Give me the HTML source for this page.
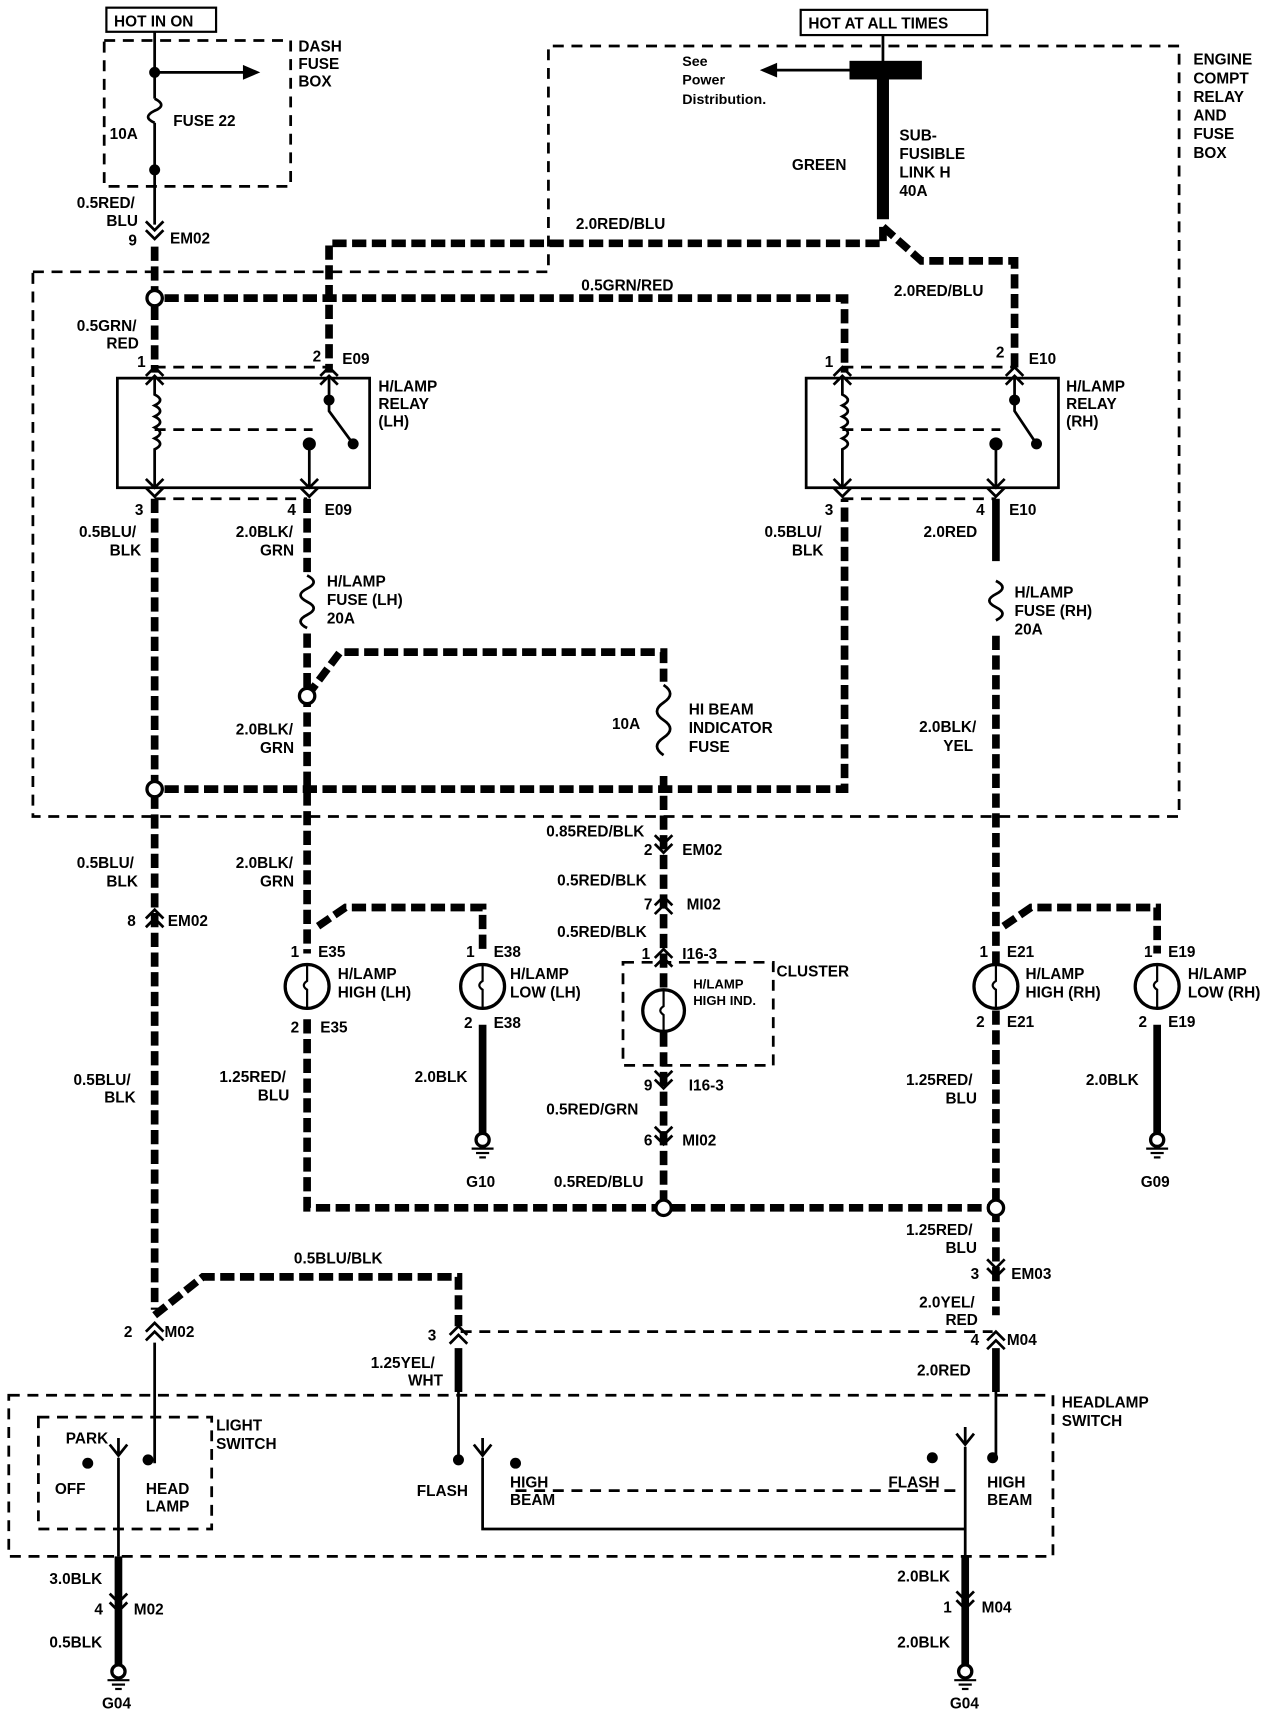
<!DOCTYPE html>
<html><head><meta charset="utf-8"><style>
html,body{margin:0;padding:0;background:#fff;}
svg{display:block;}
text{font-family:"Liberation Sans",sans-serif;font-weight:bold;font-size:14px;fill:#000;}
</style></head><body>
<svg width="1280" height="1712" viewBox="0 0 1167 1562" preserveAspectRatio="none" xmlns="http://www.w3.org/2000/svg">
<defs>
<g id="gnd"><circle cx="0" cy="0" r="6" fill="#fff" stroke="#000" stroke-width="3"/><line x1="-10" y1="8" x2="10" y2="8" stroke="#000" stroke-width="2"/><line x1="-6" y1="12" x2="6" y2="12" stroke="#000" stroke-width="2"/><line x1="-3" y1="16" x2="3" y2="16" stroke="#000" stroke-width="2"/></g>
<g id="cd"><path d="M-8,-8 L0,0 L8,-8 M-8,0 L0,8 L8,0" fill="none" stroke="#000" stroke-width="2.5"/></g>
<g id="cu"><path d="M-8,8 L0,0 L8,8 M-8,16 L0,8 L8,16" fill="none" stroke="#000" stroke-width="2.5"/></g>
</defs>
<g fill="none" stroke="#000">
<g stroke-width="2.5" stroke-dasharray="10 7">
<rect x="95" y="37" width="170" height="133"/>
<path d="M30,248 L500,248 L500,42 L1075,42 L1075,745 L30,745 Z"/>
<rect x="568" y="878" width="137" height="94"/>
<rect x="8" y="1273" width="952" height="147"/>
<rect x="35" y="1293" width="158" height="102"/>
<path d="M141,335 L300,335 M141,455 L280,455 M141,392 L285,392 M768,335 L925,335 M768,455 L908,455 M768,392 L912,392 M420,1215 L905,1215 M470,1360 L875,1360"/>
</g>
<rect x="97" y="7" width="100" height="22" stroke-width="2"/>
<rect x="730" y="9" width="170" height="23" stroke-width="2"/>
<g stroke-width="2.5">
<path d="M141,29 L141,90 M141,112 L141,205 M141,66 L225,66"/>
<path d="M141,90 q12,6 0,11 q-12,6 0,11" />
<path d="M805,32 L805,60 M775,64 L705,64"/>
<rect x="107" y="345" width="230" height="100"/>
<rect x="735" y="345" width="230" height="100"/>
<path d="M141,345 L141,360 q10,5 0,10 q10,5 0,10 q10,5 0,10 q10,5 0,10 q10,5 0,10 L141,445"/>
<path d="M300,345 L300,375 L322,405 M282,405 L282,445"/>
<path d="M768,345 L768,360 q10,5 0,10 q10,5 0,10 q10,5 0,10 q10,5 0,10 q10,5 0,10 L768,445"/>
<path d="M925,345 L925,375 L945,405 M908,405 L908,445"/>
<path d="M280,525 q12,6 0,12 q-12,6 0,12 q12,6 0,12 q-12,6 0,12"/>
<path d="M605,625 q12,8 0,16 q-12,8 0,16 q12,8 0,16 q-12,8 0,16"/>
<path d="M908,530 q12,6 0,12 q-12,6 0,12 q12,6 0,12"/>
<path d="M418,1270 L418,1330 M908,1270 L908,1330 M141,1225 L141,1335 M108,1330 L108,1420"/>
<path d="M440,1330 L440,1395 L880,1395 M880,1320 L880,1420"/>
</g>
<path d="M222,60 L236,66 L222,72 Z M708,58 L694,64 L708,70 Z" fill="#000" stroke-width="1"/>
<g stroke-width="7" stroke-dasharray="13 5">
<path d="M141,225 L141,340"/>
<path d="M805,207 L805,222 L300,222 L300,340"/>
<path d="M805,207 L840,238 L925,238 L925,340"/>
<path d="M150,272 L770,272 L770,340"/>
<path d="M141,455 L141,1195"/>
<path d="M280,455 L280,525"/>
<path d="M280,578 L280,870"/>
<path d="M280,635 L310,595 L605,595 L605,622"/>
<path d="M605,708 L605,1100"/>
<path d="M150,720 L770,720 L770,455"/>
<path d="M908,580 L908,1200"/>
<path d="M290,845 L315,828 L440,828 L440,870"/>
<path d="M915,845 L940,828 L1055,828 L1055,870"/>
<path d="M280,930 L280,1102 L908,1102"/>
<path d="M141,1200 L185,1165 L418,1165 L418,1210"/>
</g>
<g stroke-width="7">
<path d="M805,72 L805,200" stroke-width="11"/>
<path d="M908,455 L908,512"/>
<path d="M440,935 L440,1035 M1055,935 L1055,1035"/>
<path d="M418,1230 L418,1270 M908,1230 L908,1270"/>
<path d="M108,1420 L108,1520 M880,1420 L880,1520"/>
</g>
<rect x="775" y="56" width="65" height="16" fill="#000"/>
<g stroke-width="3" fill="#fff">
<circle cx="280" cy="900" r="20"/><circle cx="440" cy="900" r="20"/>
<circle cx="605" cy="922" r="19"/><circle cx="908" cy="900" r="20"/><circle cx="1055" cy="900" r="20"/>
</g>
<g stroke-width="2">
<path d="M280,880 L280,895 q-6,4 0,8 L280,920 M440,880 L440,895 q-6,4 0,8 L440,920 M605,903 L605,918 q-6,4 0,8 L605,941 M908,880 L908,895 q-6,4 0,8 L908,920 M1055,880 L1055,895 q-6,4 0,8 L1055,920"/>
</g>
<g stroke-width="2.5">
<path d="M100,1318 L108,1328 L116,1318 M108,1328 L108,1312"/>
<path d="M432,1318 L440,1328 L448,1318 M440,1328 L440,1312"/>
<path d="M872,1308 L880,1318 L888,1308 M880,1318 L880,1302"/>
</g>
</g>
<g fill="#000">
<circle cx="141" cy="66" r="5"/><circle cx="141" cy="155" r="5"/>
<circle cx="300" cy="365" r="5"/><circle cx="322" cy="405" r="5"/><circle cx="282" cy="405" r="6"/>
<circle cx="925" cy="365" r="5"/><circle cx="945" cy="405" r="5"/><circle cx="908" cy="405" r="6"/>
<circle cx="80" cy="1335" r="5"/><circle cx="135" cy="1332" r="5"/>
<circle cx="418" cy="1332" r="5"/><circle cx="470" cy="1335" r="5"/>
<circle cx="850" cy="1330" r="5"/><circle cx="905" cy="1330" r="5"/>
</g>
<g fill="#fff" stroke="#000" stroke-width="3">
<circle cx="141" cy="272" r="7"/><circle cx="280" cy="635" r="7"/><circle cx="141" cy="720" r="7"/>
<circle cx="605" cy="1102" r="7"/><circle cx="908" cy="1102" r="7"/>
</g>
<use href="#cd" x="141" y="210"/>
<use href="#cu" x="141" y="335"/><use href="#cu" x="300" y="335"/>
<use href="#cu" x="768" y="335"/><use href="#cu" x="925" y="335"/>
<use href="#cd" x="141" y="445"/><use href="#cd" x="282" y="445"/>
<use href="#cd" x="768" y="445"/><use href="#cd" x="908" y="445"/>
<use href="#cu" x="141" y="830"/>
<use href="#cd" x="605" y="770"/><use href="#cu" x="605" y="818"/><use href="#cu" x="605" y="866"/>
<use href="#cd" x="605" y="985"/><use href="#cd" x="605" y="1036"/>
<use href="#cd" x="908" y="1157"/><use href="#cu" x="908" y="1215"/>
<use href="#cu" x="141" y="1207"/><use href="#cu" x="418" y="1210"/>
<use href="#cd" x="108" y="1462"/><use href="#cd" x="880" y="1460"/>
<use href="#gnd" x="440" y="1040"/><use href="#gnd" x="1055" y="1040"/>
<use href="#gnd" x="108" y="1525"/><use href="#gnd" x="880" y="1525"/>
<text x="104" y="24">HOT IN ON</text>
<text x="737" y="26">HOT AT ALL TIMES</text>
<text x="272" y="47">DASH</text><text x="272" y="63">FUSE</text><text x="272" y="79">BOX</text>
<text x="158" y="115">FUSE 22</text><text x="100" y="127">10A</text>
<text x="70" y="190">0.5RED/</text><text x="97" y="206">BLU</text>
<text x="117" y="224">9</text><text x="155" y="222">EM02</text>
<text x="622" y="60" style="font-size:13px">See</text><text x="622" y="77" style="font-size:13px">Power</text><text x="622" y="95" style="font-size:13px">Distribution.</text>
<text x="1088" y="59">ENGINE</text><text x="1088" y="76">COMPT</text><text x="1088" y="93">RELAY</text><text x="1088" y="110">AND</text><text x="1088" y="127">FUSE</text><text x="1088" y="144">BOX</text>
<text x="820" y="128">SUB-</text><text x="820" y="145">FUSIBLE</text><text x="820" y="162">LINK H</text><text x="820" y="179">40A</text>
<text x="722" y="155">GREEN</text>
<text x="525" y="209">2.0RED/BLU</text>
<text x="530" y="265">0.5GRN/RED</text>
<text x="815" y="270">2.0RED/BLU</text>
<text x="70" y="302">0.5GRN/</text><text x="97" y="318">RED</text>
<text x="125" y="335">1</text><text x="285" y="330">2</text><text x="312" y="332">E09</text>
<text x="752" y="335">1</text><text x="908" y="326">2</text><text x="938" y="332">E10</text>
<text x="345" y="357">H/LAMP</text><text x="345" y="373">RELAY</text><text x="345" y="389">(LH)</text>
<text x="972" y="357">H/LAMP</text><text x="972" y="373">RELAY</text><text x="972" y="389">(RH)</text>
<text x="123" y="470">3</text><text x="262" y="470">4</text><text x="296" y="470">E09</text>
<text x="72" y="490">0.5BLU/</text><text x="100" y="507">BLK</text>
<text x="215" y="490">2.0BLK/</text><text x="237" y="507">GRN</text>
<text x="752" y="470">3</text><text x="890" y="470">4</text><text x="920" y="470">E10</text>
<text x="697" y="490">0.5BLU/</text><text x="722" y="507">BLK</text>
<text x="842" y="490">2.0RED</text>
<text x="298" y="535">H/LAMP</text><text x="298" y="552">FUSE (LH)</text><text x="298" y="569">20A</text>
<text x="925" y="545">H/LAMP</text><text x="925" y="562">FUSE (RH)</text><text x="925" y="579">20A</text>
<text x="628" y="652">HI BEAM</text><text x="628" y="669">INDICATOR</text><text x="628" y="686">FUSE</text>
<text x="558" y="665">10A</text>
<text x="215" y="670">2.0BLK/</text><text x="237" y="687">GRN</text>
<text x="838" y="668">2.0BLK/</text><text x="860" y="685">YEL</text>
<text x="498" y="763">0.85RED/BLK</text>
<text x="587" y="780">2</text><text x="622" y="780">EM02</text>
<text x="508" y="808">0.5RED/BLK</text>
<text x="587" y="830">7</text><text x="626" y="830">MI02</text>
<text x="508" y="855">0.5RED/BLK</text>
<text x="585" y="875">1</text><text x="622" y="875">I16-3</text>
<text x="708" y="891">CLUSTER</text>
<text x="632" y="902" style="font-size:12px">H/LAMP</text><text x="632" y="917" style="font-size:12px">HIGH IND.</text>
<text x="70" y="792">0.5BLU/</text><text x="97" y="809">BLK</text>
<text x="215" y="792">2.0BLK/</text><text x="237" y="809">GRN</text>
<text x="116" y="845">8</text><text x="153" y="845">EM02</text>
<text x="265" y="873">1</text><text x="290" y="873">E35</text>
<text x="308" y="893">H/LAMP</text><text x="308" y="910">HIGH (LH)</text>
<text x="265" y="942">2</text><text x="292" y="942">E35</text>
<text x="425" y="873">1</text><text x="450" y="873">E38</text>
<text x="465" y="893">H/LAMP</text><text x="465" y="910">LOW (LH)</text>
<text x="423" y="938">2</text><text x="450" y="938">E38</text>
<text x="893" y="873">1</text><text x="918" y="873">E21</text>
<text x="935" y="893">H/LAMP</text><text x="935" y="910">HIGH (RH)</text>
<text x="890" y="937">2</text><text x="918" y="937">E21</text>
<text x="1043" y="873">1</text><text x="1065" y="873">E19</text>
<text x="1083" y="893">H/LAMP</text><text x="1083" y="910">LOW (RH)</text>
<text x="1038" y="937">2</text><text x="1065" y="937">E19</text>
<text x="67" y="990">0.5BLU/</text><text x="95" y="1006">BLK</text>
<text x="200" y="987">1.25RED/</text><text x="235" y="1004">BLU</text>
<text x="378" y="987">2.0BLK</text>
<text x="587" y="995">9</text><text x="628" y="995">I16-3</text>
<text x="498" y="1017">0.5RED/GRN</text>
<text x="587" y="1045">6</text><text x="622" y="1045">MI02</text>
<text x="505" y="1083">0.5RED/BLU</text>
<text x="826" y="990">1.25RED/</text><text x="862" y="1007">BLU</text>
<text x="990" y="990">2.0BLK</text>
<text x="425" y="1083">G10</text><text x="1040" y="1083">G09</text>
<text x="826" y="1127">1.25RED/</text><text x="862" y="1143">BLU</text>
<text x="885" y="1167">3</text><text x="922" y="1167">EM03</text>
<text x="268" y="1153">0.5BLU/BLK</text>
<text x="838" y="1193">2.0YEL/</text><text x="862" y="1209">RED</text>
<text x="885" y="1227">4</text><text x="918" y="1227">M04</text>
<text x="113" y="1220">2</text><text x="150" y="1220">M02</text>
<text x="390" y="1223">3</text>
<text x="338" y="1248">1.25YEL/</text><text x="372" y="1264">WHT</text>
<text x="836" y="1255">2.0RED</text>
<text x="968" y="1284">HEADLAMP</text><text x="968" y="1301">SWITCH</text>
<text x="197" y="1305">LIGHT</text><text x="197" y="1322">SWITCH</text>
<text x="60" y="1317">PARK</text><text x="50" y="1363">OFF</text>
<text x="133" y="1363">HEAD</text><text x="133" y="1379">LAMP</text>
<text x="380" y="1365">FLASH</text>
<text x="465" y="1357">HIGH</text><text x="465" y="1373">BEAM</text>
<text x="810" y="1357">FLASH</text>
<text x="900" y="1357">HIGH</text><text x="900" y="1373">BEAM</text>
<text x="45" y="1445">3.0BLK</text>
<text x="86" y="1473">4</text><text x="122" y="1473">M02</text>
<text x="45" y="1503">0.5BLK</text>
<text x="93" y="1559">G04</text>
<text x="818" y="1443">2.0BLK</text>
<text x="860" y="1471">1</text><text x="895" y="1471">M04</text>
<text x="818" y="1503">2.0BLK</text>
<text x="866" y="1559">G04</text>
</svg>
</body></html>
